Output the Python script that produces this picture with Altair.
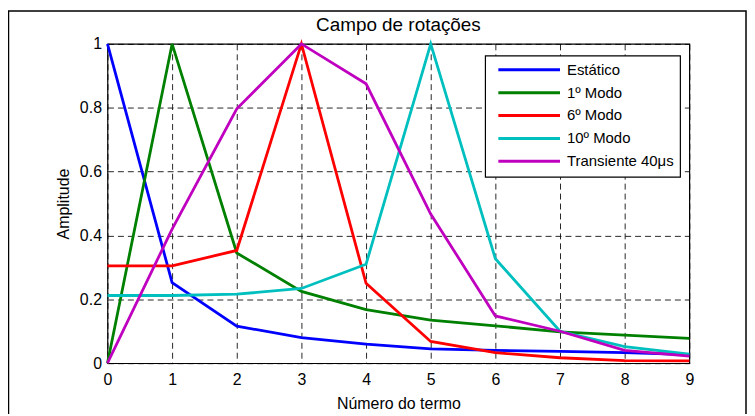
import altair as alt
import pandas as pd

termos = [0, 1, 2, 3, 4, 5, 6, 7, 8, 9]
series_names = ["Estático", "1º Modo", "6º Modo", "10º Modo", "Transiente 40μs"]
estatico = [1.0, 0.252, 0.116, 0.080, 0.060, 0.045, 0.040, 0.037, 0.033, 0.027]
modo1 = [0.0, 1.0, 0.345, 0.225, 0.168, 0.135, 0.117, 0.098, 0.088, 0.078]
modo6 = [0.305, 0.305, 0.353, 1.0, 0.250, 0.068, 0.033, 0.017, 0.008, 0.007]
modo10 = [0.212, 0.212, 0.216, 0.234, 0.310, 1.0, 0.327, 0.100, 0.052, 0.028]
transiente = [0.0, 0.42, 0.797, 1.0, 0.875, 0.467, 0.148, 0.100, 0.040, 0.022]
colors = ["#0000FF", "#008000", "#FF0000", "#00BFBF", "#BF00BF"]
y_ticks = [0, 0.2, 0.4, 0.6, 0.8, 1]
title_text = "Campo de rotações"

rows = []
for name, vals in zip(series_names, [estatico, modo1, modo6, modo10, transiente]):
    for t, v in zip(termos, vals):
        rows.append({"termo": t, "amp": v, "serie": name})
df = pd.DataFrame(rows)
df_leg = pd.DataFrame({"serie": series_names})

FONT = "Liberation Sans"
color_enc = alt.Color("serie:N", scale=alt.Scale(domain=series_names, range=colors), legend=None)

lines = alt.Chart(df).mark_line(strokeWidth=2.8).encode(
    x=alt.X("termo:Q", scale=alt.Scale(domain=[0, 9], nice=False),
            axis=alt.Axis(title="Número do termo", values=termos, format="d",
                          grid=True, gridDash=[6, 4], gridColor="#000000", gridOpacity=0.85,
                          ticks=False, labelFontSize=16, titleFontSize=16,
                          labelFont=FONT, titleFont=FONT, titleFontWeight="normal",
                          labelColor="#000", titleColor="#000", domain=False,
                          labelFlush=False, labelPadding=8, titlePadding=9)),
    y=alt.Y("amp:Q", scale=alt.Scale(domain=[0, 1], nice=False),
            axis=alt.Axis(title="Amplitude", values=y_ticks, format="~g",
                          grid=True, gridDash=[6, 4], gridColor="#000000", gridOpacity=0.85,
                          ticks=False, labelFontSize=16, titleFontSize=16,
                          labelFont=FONT, titleFont=FONT, titleFontWeight="normal",
                          labelColor="#000", titleColor="#000", domain=False,
                          labelFlush=False, labelPadding=6, titlePadding=8)),
    color=color_enc,
    order="termo:Q",
)

one = pd.DataFrame({"a": [0]})

frame = alt.Chart(one).mark_rect(fill=None, stroke="#000", strokeWidth=1.5).encode(
    x=alt.value(-99.5), x2=alt.value(642), y=alt.value(-33), y2=alt.value(400))

title = alt.Chart(one).mark_text(font=FONT, fontSize=19, color="#000",
                                 align="center", baseline="alphabetic").encode(
    x=alt.value(292.5), y=alt.value(-13), text=alt.value(title_text))

leg_box = alt.Chart(one).mark_rect(fill="#fff", stroke="#000", strokeWidth=1.2).encode(
    x=alt.value(380), x2=alt.value(576), y=alt.value(12), y2=alt.value(134))

leg_y = alt.Y("serie:N", scale=alt.Scale(type="point", domain=series_names,
                                         range=[26, 118], padding=0), axis=None)

leg_lines = alt.Chart(df_leg).mark_rule(strokeWidth=3).encode(
    x=alt.value(393), x2=alt.value(455), y=leg_y, color=color_enc)

leg_text = alt.Chart(df_leg).mark_text(font=FONT, fontSize=15, color="#000",
                                       align="left", baseline="middle").encode(
    x=alt.value(462), y=leg_y, text="serie:N")

chart = alt.layer(frame, lines, leg_box, leg_lines, leg_text, title).resolve_scale(
    y="independent"
).properties(
    width=585, height=321,
    autosize=alt.AutoSizeParams(type="none"),
    padding={"left": 100, "top": 35, "right": 58, "bottom": 50},
).configure_view(stroke="#000", strokeWidth=1.2)

chart.save("out.html", embed_options={"renderer": "svg", "actions": False})
